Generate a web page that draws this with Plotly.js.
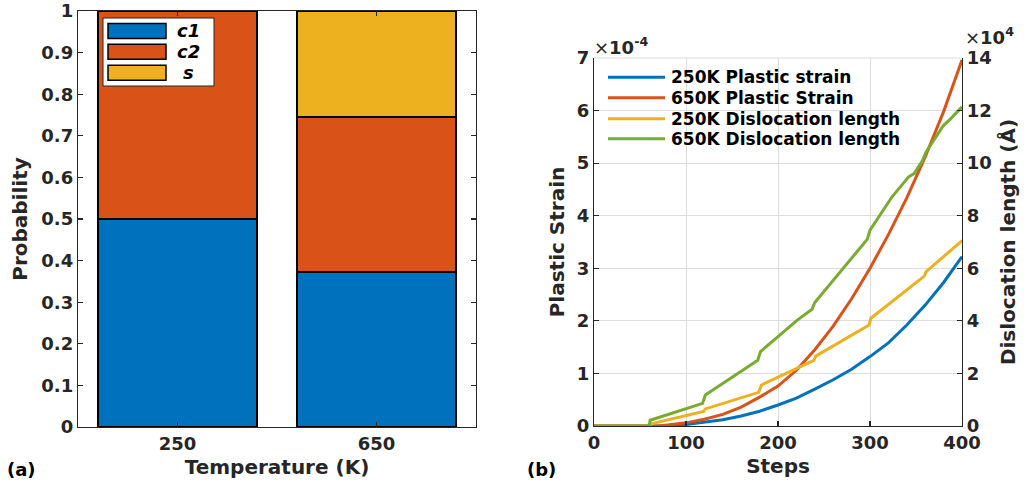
<!DOCTYPE html>
<html><head><meta charset="utf-8">
<script src="https://cdn.plot.ly/plotly-3.0.1.min.js"></script>
<style>html,body{margin:0;padding:0;background:#fff}</style>
</head><body><div id="chart" style="width:1030px;height:490px"></div>
<script>
// ---- (a) stacked probability bars ----
const temperatures = ['250', '650'];
const probC1 = [0.5, 0.372];
const probC2 = [0.5, 0.373];
const probS  = [0.0, 0.255];
const barNames = ['c1', 'c2', 's'];

// ---- (b) plastic strain (x1e-4) and dislocation length (x1e4) vs steps ----
const steps250Strain = [0, 20, 40, 60, 70, 80, 100, 120, 140, 160, 180, 200, 220, 240, 260, 280, 300, 320, 340, 360, 380, 400];
const strain250      = [0, 0, 0, 0, 0, 0.005, 0.03, 0.07, 0.12, 0.19, 0.28, 0.40, 0.53, 0.70, 0.88, 1.08, 1.32, 1.58, 1.92, 2.30, 2.73, 3.22];
const steps650Strain = [0, 20, 40, 60, 70, 80, 100, 120, 140, 160, 180, 200, 220, 240, 260, 280, 300, 320, 340, 360, 380, 400];
const strain650      = [0, 0, 0, 0, 0, 0.02, 0.06, 0.13, 0.22, 0.36, 0.55, 0.76, 1.06, 1.45, 1.90, 2.42, 3.00, 3.64, 4.34, 5.12, 5.98, 6.96];
const steps250Disl   = [0, 60, 62, 119, 121, 179, 182, 239, 241, 299, 301, 359, 361, 400];
const disl250        = [0, 0, 0.08, 0.55, 0.65, 1.28, 1.56, 2.50, 2.66, 3.84, 4.10, 5.70, 5.87, 7.05];
const steps650Disl   = [0, 60, 61, 118, 121, 178, 181, 221, 237, 240, 297, 300, 324, 342, 348, 357, 361, 380, 386, 400];
const disl650        = [0, 0, 0.22, 0.86, 1.18, 2.50, 2.83, 4.03, 4.44, 4.70, 7.10, 7.45, 8.72, 9.48, 9.60, 10.10, 10.43, 11.44, 11.63, 12.14];
const lineNames = ['250K Plastic strain', '650K Plastic Strain', '250K Dislocation length', '650K Dislocation length'];

const strainTicks = [0, 1, 2, 3, 4, 5, 6, 7];
const dislTicks = [0, 2, 4, 6, 8, 10, 12, 14];
const probTicks = [0, 0.1, 0.2, 0.3, 0.4, 0.5, 0.6, 0.7, 0.8, 0.9, 1];

const C = ['#0072BD', '#D95319', '#EDB120', '#77AC30'];
const FAM = 'DejaVu Sans, Verdana, sans-serif';
const INK = '#262626';
const W = 1030, H = 490;
const px = v => v / W;
const py = v => 1 - v / H;

const traces = [];
[probC1, probC2, probS].forEach((vals, i) => {
  traces.push({type: 'bar', x: temperatures, y: vals, name: barNames[i], width: 0.8,
    marker: {color: C[i], line: {color: '#000', width: 1.6}}, xaxis: 'x', yaxis: 'y', showlegend: false, hoverinfo: 'skip'});
});
const lineSets = [[steps250Strain, strain250, 'y2'], [steps650Strain, strain650, 'y2'], [steps250Disl, disl250, 'y3'], [steps650Disl, disl650, 'y3']];
lineSets.forEach((s, i) => {
  traces.push({type: 'scatter', mode: 'lines', x: s[0], y: s[1], name: lineNames[i], xaxis: 'x2', yaxis: s[2],
    line: {color: C[i], width: 3}, showlegend: false, hoverinfo: 'skip'});
});

const tickFont = {family: FAM, size: 18, weight: 'bold', color: INK};
const titleFont = {family: FAM, size: 20, weight: 'bold', color: INK};
const common = {showline: true, linecolor: INK, linewidth: 1.2, ticks: 'inside', ticklen: 5, tickcolor: INK, tickwidth: 1.2,
  tickfont: tickFont, automargin: false, zeroline: false, fixedrange: true};

const shapes = [], annotations = [];
// left legend
shapes.push({type: 'rect', xref: 'paper', yref: 'paper', x0: px(103), x1: px(214), y0: py(86), y1: py(18),
  fillcolor: '#fff', line: {color: INK, width: 1}});
[31, 51.7, 72.7].forEach((cy, i) => {
  shapes.push({type: 'rect', xref: 'paper', yref: 'paper', x0: px(108), x1: px(166), y0: py(cy + 7.5), y1: py(cy - 7.5),
    fillcolor: C[i], line: {color: '#000', width: 1.5}});
  annotations.push({xref: 'paper', yref: 'paper', x: px(188), y: py(cy), xanchor: 'center', yanchor: 'middle', showarrow: false,
    text: barNames[i], font: {family: FAM, size: 18, weight: 'bold', style: 'italic', color: '#000'}});
});
// right legend
[77.3, 97.7, 118.7, 138.7].forEach((cy, i) => {
  shapes.push({type: 'line', xref: 'paper', yref: 'paper', x0: px(608), x1: px(665), y0: py(cy), y1: py(cy),
    line: {color: C[i], width: 3}});
  annotations.push({xref: 'paper', yref: 'paper', x: px(669), y: py(cy), xanchor: 'left', yanchor: 'middle', showarrow: false,
    text: lineNames[i], font: {family: FAM, size: 17, weight: 'bold', color: '#000'}});
});
// exponents and panel labels
annotations.push({xref: 'paper', yref: 'paper', x: px(592), y: py(46), xanchor: 'left', yanchor: 'middle', showarrow: false,
  text: '×<b>10<sup>-4</sup></b>', font: {family: FAM, size: 18, color: INK}});
annotations.push({xref: 'paper', yref: 'paper', x: px(963), y: py(36), xanchor: 'left', yanchor: 'middle', showarrow: false,
  text: '×<b>10<sup>4</sup></b>', font: {family: FAM, size: 18, color: INK}});
annotations.push({xref: 'paper', yref: 'paper', x: px(21), y: py(469), xanchor: 'center', yanchor: 'middle', showarrow: false,
  text: '(a)', font: {family: FAM, size: 18, weight: 'bold', color: '#000'}});
annotations.push({xref: 'paper', yref: 'paper', x: px(541), y: py(469), xanchor: 'center', yanchor: 'middle', showarrow: false,
  text: '(b)', font: {family: FAM, size: 18, weight: 'bold', color: '#000'}});
// top edge of panel (b)
shapes.push({type: 'line', xref: 'paper', yref: 'paper', x0: px(594), x1: px(962), y0: py(58), y1: py(58), line: {color: '#dcdcdc', width: 1}});

const layout = {
  width: W, height: H, margin: {l: 0, r: 0, t: 0, b: 0, pad: 0},
  paper_bgcolor: '#fff', plot_bgcolor: 'rgba(0,0,0,0)',
  barmode: 'stack', bargap: 0.2, showlegend: false,
  xaxis: Object.assign({}, common, {domain: [px(78), px(476)], anchor: 'y', type: 'category', range: [-0.5, 1.5], mirror: 'ticks',
    showgrid: false, title: {text: 'Temperature (K)', font: titleFont, standoff: 7}}),
  yaxis: Object.assign({}, common, {domain: [py(427), py(11)], anchor: 'x', range: [0, 1], tickvals: probTicks,
    ticktext: probTicks.map(String), mirror: 'ticks', showgrid: false, title: {text: 'Probability', font: titleFont, standoff: 8}}),
  xaxis2: Object.assign({}, common, {domain: [px(594), px(962)], anchor: 'y2', range: [0, 400], tickvals: [0, 100, 200, 300, 400],
    showgrid: true, gridcolor: '#dcdcdc', gridwidth: 1, title: {text: 'Steps', font: titleFont, standoff: 7}}),
  yaxis2: Object.assign({}, common, {domain: [py(426), py(58)], anchor: 'x2', range: [0, 7], tickvals: strainTicks,
    showgrid: true, gridcolor: '#dcdcdc', gridwidth: 1, title: {text: 'Plastic Strain', font: titleFont, standoff: 6}}),
  yaxis3: Object.assign({}, common, {overlaying: 'y2', anchor: 'x2', side: 'right', range: [0, 14], tickvals: dislTicks,
    showgrid: false, title: {text: 'Dislocation length (Å)', font: titleFont, standoff: 10}}),
  shapes: shapes, annotations: annotations
};
Plotly.newPlot('chart', traces, layout, {staticPlot: true, displayModeBar: false});
</script></body></html>
